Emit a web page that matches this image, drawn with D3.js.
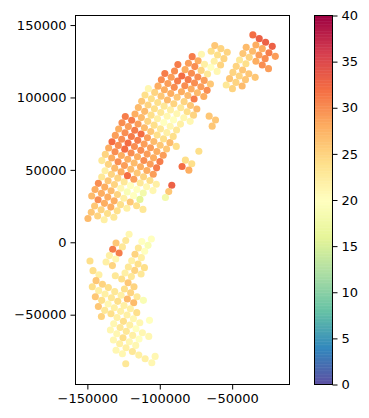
<!DOCTYPE html>
<html><head><meta charset="utf-8">
<style>html,body{margin:0;padding:0;background:#fff}svg{display:block}text{font-family:"DejaVu Sans";}</style>
<script src="https://cdn.jsdelivr.net/npm/d3@7"></script></head><body><svg id="c" width="369" height="418"></svg>
<script>
const xTicks=[-150000,-100000,-50000];
const yTicks=[-50000,0,50000,100000,150000];
const barTicks=[0,5,10,15,20,25,30,35,40];
const xDomain=[-158200,-10400];
const yDomain=[-98200,156600];
const barDomain=[0,40];
const xCoords=[
-149600,-147300,-142900,-138400,-145000,-140500,-136100,-131700,
-147000,-142600,-138200,-133800,-129400,-144700,-140300,-135900,-131500,-127100,-122700,
-142400,-138000,-133600,-129200,-124800,-120400,-116000,-111600,
-140100,-135700,-131300,-126900,-122500,-118100,-113700,
-137800,-133400,-129000,-124600,-120200,-115800,-111400,
-140000,-135500,-131100,-126700,-122300,-117900,-113500,-109100,-104700,
-137600,-133200,-128800,-124400,-120000,-115600,-111200,-106800,-102400,
-135300,-130900,-126500,-122100,-117700,-113300,-108900,-104500,
-133000,-128600,-124200,-119800,-115400,-111000,-106600,-102200,
-130700,-126300,-121900,-117500,-113100,-108700,-104300,-99900,
-128400,-124000,-119600,-115200,-110800,-106400,-102000,-97600,
-126100,-121700,-117300,-112900,-108500,-104100,-99700,-95300,
-123800,-119400,-115000,-110600,-106200,-101800,-97400,-93000,-88600,
-117100,-112700,-108300,-103900,-99500,-95100,-90700,
-114800,-110400,-106000,-101600,-97200,-92800,-88400,
-112500,-108100,-103700,-99300,-94900,-90500,
-110200,-105800,-101400,-97000,-92600,-88200,
-107900,-103500,-99100,-94700,-90300,
-101200,-96800,-92400,-88000,-98900,-94400,-90000,-96500,-92100,-87700,-89800,-87500,
-71200,-77600,-73500,-80200,-75800,-69100,-82500,-78100,-71400,-64700,-67000,-84800,-80400,-73700,-69300,-60400,
-82700,-76000,-71600,-65000,-85000,-78300,-74000,-67300,-80600,-76300,-69600,-83200,-78800,-74400,-85500,-81100,-76700,-83400,-79000,-85700,
-65900,-61500,-63800,-62400,-58000,-55700,-60100,-64500,-62000,-57800,-53400,
-73000,-82300,-77900,-84600,-79900,-91700,-93800,-96100,
-35700,-31300,-26900,-22300,-33600,-29200,-24600,-20200,-40300,-35900,-31500,-27200,-42600,-38200,-33600,-29200,-24900,
-44900,-40500,-47200,-42800,-38500,-34100,-49500,-45100,-40800,-51800,-47400,-43100,-54100,-49800,
-121200,-105800,-123500,-112400,-130200,-108100,-125800,-114800,-132500,-128100,-110400,-117100,-134800,-112700,-130400,-119400,-148200,-137100,-132700,-115000,
-121700,-110600,-117300,-146100,-124000,-112900,-142000,-130700,-119600,-126300,-144000,-121900,-139600,-117800,-146600,-135500,-124400,-142200,-131100,-120100,
-137800,-126700,-144500,-115700,-133400,-122400,-140100,-111300,-129000,-118000,-135700,-124700,-142400,-131400,-120300,-138000,-127000,-115900,-133700,-122600,
-140300,-129500,-118200,-107100,-125100,-113800,-131800,-120700,-127400,-116400,-134100,-123100,-112000,-129700,-118700,-125400,-107600,-114300,-132000,-121000,
-127700,-116600,-123300,-130200,-118900,-125800,-114500,-103200,-110100,-105500,-123500
];
const yCoords=[
16400,20700,18100,15600,25100,22500,19900,17300,
32000,29400,26900,24300,21700,36400,33800,31200,28600,26000,23500,
40700,38100,35600,33000,30400,27800,25200,22700,
45100,42500,39900,37300,34800,32200,29600,
49400,46900,44300,41700,39100,36500,34000,
56400,53800,51200,48600,46000,43500,40900,38300,35700,
60700,58200,55600,53000,50400,47800,45200,42700,40100,
65100,62500,59900,57300,54800,52200,49600,47000,
69400,66900,64300,61700,59100,56500,54000,51400,
73800,71200,68600,66100,63500,60900,58300,55700,
78200,75600,73000,70400,67800,65300,62700,60100,
82500,79900,77400,74800,72200,69600,67000,64400,
86900,84300,81700,79100,76500,74000,71400,68800,66200,
88600,86100,83500,80900,78300,75700,73100,
93000,90400,87800,85300,82700,80100,77500,
97400,94800,92200,89600,87000,84500,
101700,99100,96500,94000,91400,88800,
106100,103500,100900,98300,95700,
107800,105300,102700,100100,112200,109600,107000,116600,114000,111400,118300,122700,
129800,128200,125400,123600,121300,122900,119200,116700,118700,120800,116200,114800,112300,114100,111800,118000,
108100,110000,107400,109300,104000,105800,103300,104900,101400,98900,100700,97100,94500,92000,92900,90100,87800,86000,83500,81600,
87100,84400,80200,125000,122400,126800,129300,131900,135800,133700,131200,
62900,56700,54200,52300,49800,39400,35000,30900,
143200,140600,138100,135300,136200,133700,130900,128400,134600,131900,129300,126800,130300,127700,125000,122400,119900,
125900,123300,121500,119000,116400,113900,117300,114800,112300,113000,110400,107900,108600,106100,
5500,2300,1200,500,-500,-2100,-3200,-3900,-4800,-7400,-6200,-8300,-9200,-10600,-11500,-12700,-12900,-13600,-16100,-15000,
-17100,-17500,-19400,-19600,-21200,-21900,-22400,-23100,-23700,-25400,-26500,-27900,-29000,-30700,-30700,-31300,-32300,-33400,-34100,-34800,
-35700,-36600,-37600,-37600,-38300,-39200,-40100,-40100,-40800,-41700,-42600,-43600,-44300,-45200,-45900,-47000,-47700,-48600,-49300,-50200,
-51200,-51900,-52800,-53900,-54600,-55600,-56200,-57200,-58800,-59700,-60600,-61500,-62500,-63200,-64300,-65900,-65000,-66800,-67500,-68700,
-70100,-71200,-72800,-74500,-75400,-77000,-77900,-78800,-80400,-83200,-83900
];
const values=[
27,26,25,22,26,25,24,23,
27,30,28,28,24,28,28,28,28,24,22,
30,28,27,25,22,26,24,23,
23,26,25,21,19,20,16,
22,25,25,23,20,20,18,
23,25,27,28,32,29,23,21,21,
25,28,30,29,27,26,25,24,22,
28,30,28,28,27,28,28,29,
32,30,32,30,28,30,29,31,
29,30,32,30,30,29,28,31,
28,30,31,31,29,29,28,29,
30,29,31,32,29,27,26,26,
31,31,29,27,26,24,24,27,24,
28,27,25,24,23,22,24,
27,27,24,22,20,21,23,
26,25,24,23,21,20,
24,24,24,23,22,21,
21,25,26,27,25,
28,28,28,26,30,29,30,31,29,31,30,31,
21,31,28,29,30,22,28,30,25,20,23,32,31,30,29,21,
30,30,29,26,28,28,27,30,27,31,28,25,26,27,23,24,25,21,21,22,
26,26,26,22,25,25,24,24,26,25,25,
24,24,24,32,28,33,26,18,
32,33,33,33,28,28,31,29,27,27,29,30,26,25,28,30,29,
23,24,25,26,26,26,25,25,26,26,25,27,23,25,
21,20,23,20,26,19,23,23,31,31,20,25,22,22,21,22,24,22,25,24,
23,24,25,24,22,23,22,23,23,24,26,26,25,25,24,24,24,22,23,25,
22,22,26,23,23,27,24,19,24,27,21,22,26,22,22,23,22,24,24,22,
25,22,21,20,24,21,21,22,23,20,21,23,21,21,22,24,21,20,21,21,
22,21,22,21,23,21,22,21,22,21,23
];
const colorStops=["#5e4fa2","#3288bd","#66c2a5","#abdda4","#e6f598","#ffffbf","#fee08b","#fdae61","#f46d43","#d53e4f","#9e0142"];
const colorDomain=[0,4,8,12,16,20,24,28,32,36,40];
const color=d3.scaleLinear().domain(colorDomain).range(colorStops).interpolate(d3.interpolateRgb);
const svg=d3.select("#c");
const x=d3.scaleLinear().domain(xDomain).range([75.5,289.5]);
const y=d3.scaleLinear().domain(yDomain).range([384.5,15.5]);
const fs="13px";
svg.append("g").selectAll("circle").data(values).join("circle")
 .attr("cx",(d,i)=>x(xCoords[i])).attr("cy",(d,i)=>y(yCoords[i])).attr("r",3.55)
 .attr("fill",d=>color(d));
const fmt=d=>d3.format("d")(d).replace("-","\u2212");
const gx=svg.append("g").attr("transform","translate(0,384.5)").call(d3.axisBottom(x).tickValues(xTicks).tickFormat(fmt).tickSize(5).tickPadding(4));
const gy=svg.append("g").attr("transform","translate(75.5,0)").call(d3.axisLeft(y).tickValues(yTicks).tickFormat(fmt).tickSize(5).tickPadding(4));
svg.append("rect").attr("x",75.5).attr("y",15.5).attr("width",214).attr("height",369).attr("fill","none").attr("stroke","#000");
// colourbar
const barY=d3.scaleLinear().domain(barDomain).range([384.5,15.5]);
const slices=d3.range(0,256).map(k=>barDomain[0]+(barDomain[1]-barDomain[0])*k/256);
const step=(barDomain[1]-barDomain[0])/256;
svg.append("g").selectAll("rect").data(slices).join("rect")
 .attr("x",314.5).attr("width",18).attr("y",d=>barY(d+step)).attr("height",d=>barY(d)-barY(d+step)+0.5)
 .attr("fill",d=>color(d+step/2));
const gb=svg.append("g").attr("transform","translate(332.5,0)").call(d3.axisRight(barY).tickValues(barTicks).tickFormat(d3.format("d")).tickSize(5).tickPadding(4));
svg.append("rect").attr("x",314.5).attr("y",15.5).attr("width",18).attr("height",369).attr("fill","none").attr("stroke","#000");
svg.selectAll(".domain").remove();
svg.selectAll(".tick text").attr("font-size",fs).attr("font-family","DejaVu Sans").attr("fill","#000");
svg.selectAll(".tick line").attr("stroke","#000");
</script></body></html>
